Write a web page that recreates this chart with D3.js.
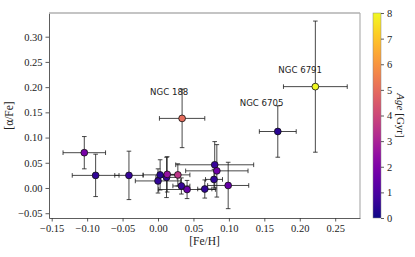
<!DOCTYPE html>
<html>
<head>
<meta charset="utf-8">
<script src="https://cdn.jsdelivr.net/npm/d3@7"></script>
<style>
  body { margin: 0; background: #fff; }
  svg text { fill: #222; }
</style>
</head>
<body>
<div id="chart"></div>
<script>
const feH    = [-0.104, -0.088, -0.041, 0.000, 0.003, 0.012, 0.013, 0.028, 0.033, 0.041, 0.066, 0.079, 0.080, 0.083, 0.099, 0.034, 0.169, 0.222];
const alphaFe = [0.070, 0.025, 0.025, 0.014, 0.026, 0.021, 0.027, 0.026, 0.004, -0.003, -0.002, 0.017, 0.046, 0.034, 0.005, 0.138, 0.112, 0.201];
const feHErr = [0.030, 0.033, 0.020, 0.032, 0.024, 0.015, 0.012, 0.017, 0.012, 0.040, 0.010, 0.012, 0.055, 0.044, 0.029, 0.032, 0.026, 0.045];
const alphaErr = [0.032, 0.042, 0.048, 0.024, 0.030, 0.040, 0.035, 0.022, 0.016, 0.018, 0.018, 0.020, 0.046, 0.052, 0.046, 0.058, 0.051, 0.130];
const ages   = [1.9, 0.5, 0.6, 0.5, 0.4, 0.6, 2.5, 3.5, 0.6, 1.6, 0.5, 0.5, 0.6, 1.7, 1.5, 5.0, 0.4, 8.0];
const names  = ["", "", "", "", "", "", "", "", "", "", "", "", "", "", "", "NGC 188", "NGC 6705", "NGC 6791"];

const xTicks = [-0.15, -0.10, -0.05, 0.00, 0.05, 0.10, 0.15, 0.20, 0.25];
const yTicks = [-0.05, 0.00, 0.05, 0.10, 0.15, 0.20, 0.25, 0.30];
const ageTicks = [0, 1, 2, 3, 4, 5, 6, 7, 8];

const W = 415, H = 257;
const plot = {left: 49, right: 360, top: 13, bottom: 218};
const cbar = {left: 373, right: 381};

const svg = d3.select("#chart").append("svg")
  .attr("width", W).attr("height", H)
  .style("font-family", "'Liberation Serif', 'DejaVu Serif', serif");

const x = d3.scaleLinear().domain([-0.1538, 0.285]).range([plot.left, plot.right]);
const y = d3.scaleLinear().domain([-0.0595, 0.347]).range([plot.bottom, plot.top]);
const color = d3.scaleSequential(d3.interpolatePlasma).domain([0, 8]);

const fmt = d => d3.format(".2f")(d).replace("-", "\u2212");

// axes
const xAxis = svg.append("g")
  .attr("transform", `translate(0,${plot.bottom})`)
  .call(d3.axisBottom(x).tickValues(xTicks).tickFormat(fmt).tickSize(3.5).tickSizeOuter(0));
const yAxis = svg.append("g")
  .attr("transform", `translate(${plot.left},0)`)
  .call(d3.axisLeft(y).tickValues(yTicks).tickFormat(fmt).tickSize(3.5).tickSizeOuter(0));
[xAxis, yAxis].forEach(a => {
  a.select(".domain").attr("stroke", "#333").attr("stroke-width", 0.8);
  a.selectAll(".tick line").attr("stroke", "#333").attr("stroke-width", 0.8);
  a.selectAll(".tick text").attr("font-size", 10.5).attr("fill", "#222")
    .style("font-family", "'Liberation Serif', serif");
});

// top and right spines
svg.append("line").attr("x1", plot.left).attr("x2", plot.right)
  .attr("y1", plot.top).attr("y2", plot.top)
  .attr("stroke", "#b0b0b0").attr("stroke-width", 1.5);
svg.append("line").attr("x1", plot.right).attr("x2", plot.right)
  .attr("y1", plot.top).attr("y2", plot.bottom)
  .attr("stroke", "#b0b0b0").attr("stroke-width", 1.2);

const pts = feH.map((d, i) => ({
  x: d, y: alphaFe[i], xe: feHErr[i], ye: alphaErr[i], age: ages[i], name: names[i]
}));

// error bars
const cap = 2.3;
const eb = svg.append("g").attr("stroke", "#1a1a1a").attr("stroke-opacity", 0.8).attr("stroke-width", 1);
pts.forEach(p => {
  const cx = x(p.x), cy = y(p.y);
  const x0 = x(p.x - p.xe), x1 = x(p.x + p.xe);
  const y0 = y(p.y - p.ye), y1 = y(p.y + p.ye);
  eb.append("line").attr("x1", x0).attr("x2", x1).attr("y1", cy).attr("y2", cy);
  eb.append("line").attr("x1", cx).attr("x2", cx).attr("y1", y0).attr("y2", y1);
  [x0, x1].forEach(v => eb.append("line").attr("x1", v).attr("x2", v).attr("y1", cy - cap).attr("y2", cy + cap));
  [y0, y1].forEach(v => eb.append("line").attr("x1", cx - cap).attr("x2", cx + cap).attr("y1", v).attr("y2", v));
});

// markers
svg.append("g").selectAll("circle")
  .data(pts)
  .join("circle")
  .attr("cx", d => x(d.x))
  .attr("cy", d => y(d.y))
  .attr("r", 3.4)
  .attr("fill", d => color(d.age))
  .attr("stroke", "#111")
  .attr("stroke-width", 0.8);

// cluster names
const labelOffset = {"NGC 188": [-32, -23], "NGC 6705": [-38, -26], "NGC 6791": [-37, -14]};
svg.append("g").selectAll("text")
  .data(pts.filter(d => d.name))
  .join("text")
  .attr("x", d => x(d.x) + labelOffset[d.name][0])
  .attr("y", d => y(d.y) + labelOffset[d.name][1])
  .attr("font-size", 8.6)
  .style("font-family", "'DejaVu Sans', sans-serif")
  .text(d => d.name);

// axis labels
svg.append("text")
  .attr("x", (plot.left + plot.right) / 2).attr("y", 245)
  .attr("text-anchor", "middle").attr("font-size", 11.5)
  .text("[Fe/H]");
svg.append("text")
  .attr("transform", `translate(13,${(plot.top + plot.bottom) / 2}) rotate(-90)`)
  .attr("text-anchor", "middle").attr("font-size", 11.5)
  .text("[\u03b1/Fe]");

// colorbar
const defs = svg.append("defs");
const grad = defs.append("linearGradient").attr("id", "plasma")
  .attr("x1", 0).attr("y1", 1).attr("x2", 0).attr("y2", 0);
d3.range(0, 1.0001, 0.05).forEach(t => {
  grad.append("stop").attr("offset", t).attr("stop-color", d3.interpolatePlasma(t));
});
svg.append("rect")
  .attr("x", cbar.left).attr("y", plot.top)
  .attr("width", cbar.right - cbar.left).attr("height", plot.bottom - plot.top)
  .attr("fill", "url(#plasma)")
  .attr("stroke", "#888").attr("stroke-width", 0.5);

const ageScale = d3.scaleLinear().domain([0, 8]).range([plot.bottom, plot.top]);
const cAxis = svg.append("g")
  .attr("transform", `translate(${cbar.right},0)`)
  .call(d3.axisRight(ageScale).tickValues(ageTicks).tickFormat(d3.format("d")).tickSize(3).tickSizeOuter(0));
cAxis.select(".domain").remove();
cAxis.selectAll(".tick line").attr("stroke", "#333").attr("stroke-width", 0.8);
cAxis.selectAll(".tick text").attr("font-size", 10.5).attr("fill", "#222")
  .style("font-family", "'Liberation Serif', serif");

const cLabel = svg.append("text")
  .attr("transform", `translate(397,${(plot.top + plot.bottom) / 2}) rotate(90)`)
  .attr("text-anchor", "middle").attr("font-size", 11);
cLabel.append("tspan").attr("font-style", "italic").text("Age");
cLabel.append("tspan").text(" [Gyr]");
</script>
</body>
</html>
